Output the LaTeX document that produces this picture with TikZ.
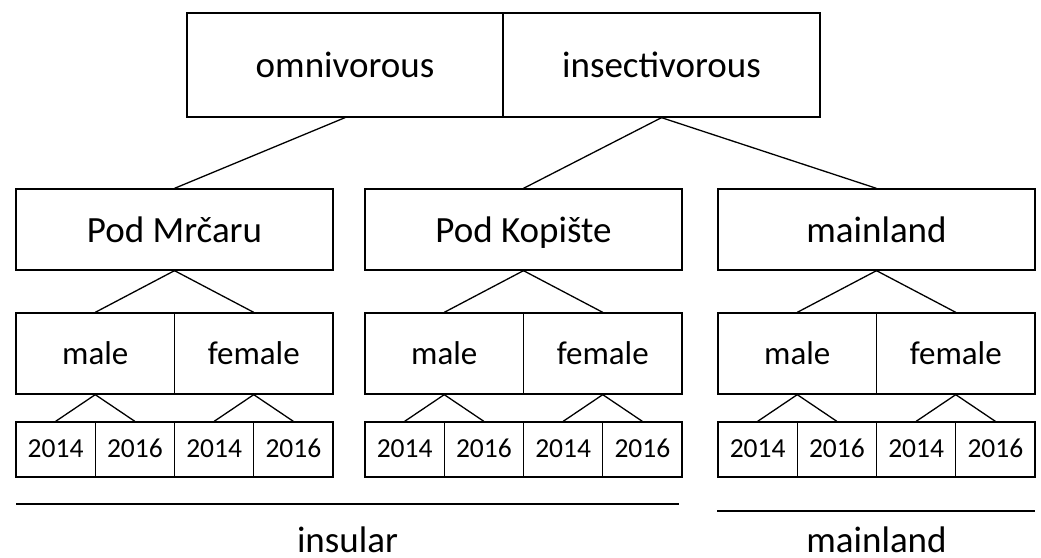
\documentclass[tikz,border=0pt]{standalone}
\usepackage{fontspec}
\setmainfont{Carlito}
\begin{document}
\begin{tikzpicture}[x=1pt,y=-1pt,
  line width=1.3pt,
  box/.style={draw, rectangle, inner sep=0pt, text depth=0pt},
  bigbox/.style={box, text height=24.5pt, minimum height=104pt, font=\fontsize{37}{42}\selectfont},
  grpbox/.style={box, text height=25pt, minimum width=317pt, minimum height=81pt, font=\fontsize{37}{42}\selectfont},
  sexbox/.style={box, text height=21pt, minimum width=158.5pt, minimum height=81pt, font=\fontsize{33}{38}\selectfont},
  yearbox/.style={box, text height=16pt, minimum width=79.25pt, minimum height=55pt, font=\fontsize{27.5}{32}\selectfont},
  label/.style={anchor=base, inner sep=0pt, font=\fontsize{37}{42}\selectfont}]
\useasboundingbox (0,0) rectangle (1041,557);
% top level
\node[bigbox, minimum width=316pt] (omni) at (345,65) {omnivorous};
\node[bigbox, minimum width=317pt] (insect) at (661.5,65) {insectivorous};
% groups
\foreach \g/\L/\name in {a/16/{Pod Mrčaru}, b/365/{Pod Kopište}, c/718/{mainland}}{
  \node[grpbox] (g\g) at (\L+158.5,229.5) {\name};
  \node[sexbox] (m\g) at (\L+79.25,353.5) {male};
  \node[sexbox] (f\g) at (\L+237.75,353.5) {female};
  \node[yearbox] (y\g1) at (\L+39.625,449.5) {2014};
  \node[yearbox] (y\g2) at (\L+118.875,449.5) {2016};
  \node[yearbox] (y\g3) at (\L+198.125,449.5) {2014};
  \node[yearbox] (y\g4) at (\L+277.375,449.5) {2016};
  \draw (g\g.south) -- (m\g.north);
  \draw (g\g.south) -- (f\g.north);
  \draw (m\g.south) -- (y\g1.north);
  \draw (m\g.south) -- (y\g2.north);
  \draw (f\g.south) -- (y\g3.north);
  \draw (f\g.south) -- (y\g4.north);
}
\draw (omni.south) -- (ga.north);
\draw (insect.south) -- (gb.north);
\draw (insect.south) -- (gc.north);
% bottom labels
\coordinate (ins1) at (16,504);
\coordinate (ins2) at (679,504);
\coordinate (ml1) at (717,511);
\coordinate (ml2) at (1035,511);
\draw (ins1) -- (ins2);
\draw (ml1) -- (ml2);
\node[label] (insular) at (347.5,552) {insular};
\node[label] (mainlandlbl) at (876.5,552) {mainland};
\end{tikzpicture}
\end{document}
